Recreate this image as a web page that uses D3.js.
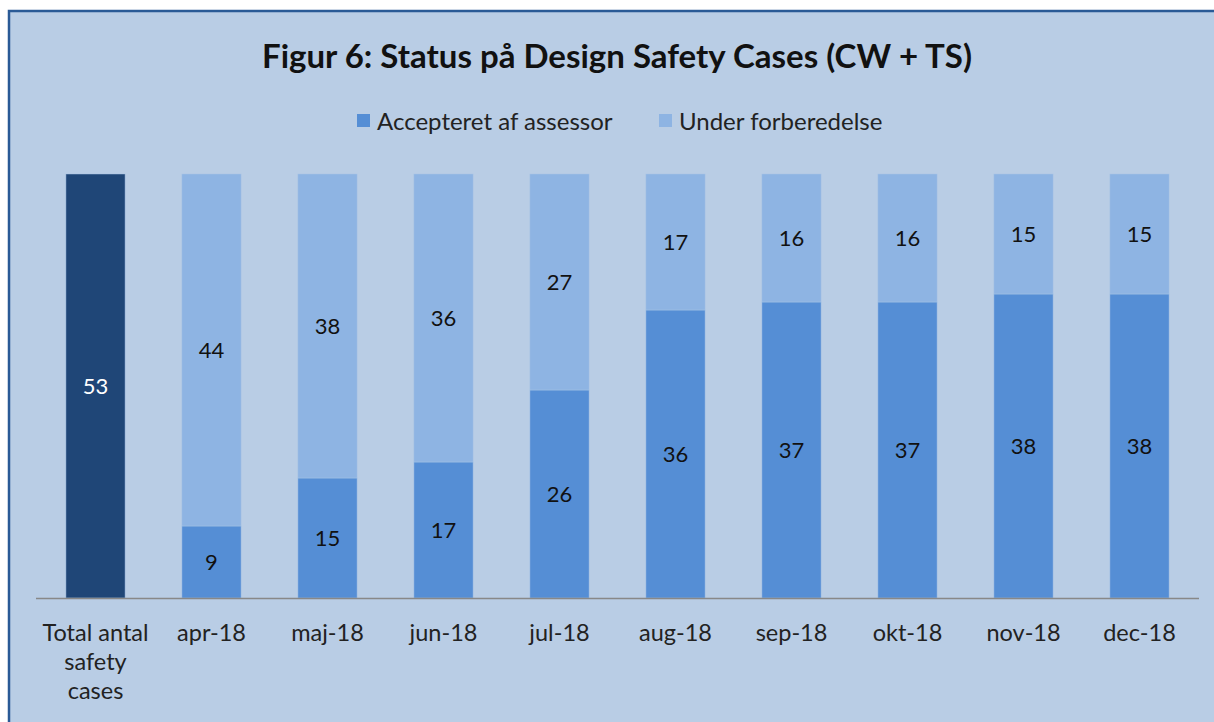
<!DOCTYPE html>
<html>
<head>
<meta charset="utf-8">
<script src="https://cdn.jsdelivr.net/npm/d3@7"></script>
<style>
  body{margin:0;background:#ffffff;}
  text{font-family:Lato, "Open Sans", sans-serif;}
</style>
</head>
<body>
<div id="chart"></div>
<script>
// data
var categories = ["Total antal safety cases","apr-18","maj-18","jun-18","jul-18","aug-18","sep-18","okt-18","nov-18","dec-18"];
var totalValues = [53,null,null,null,null,null,null,null,null,null];
var accepted = [null,9,15,17,26,36,37,37,38,38];
var underPrep = [null,44,38,36,27,17,16,16,15,15];
var seriesNames = ["Accepteret af assessor","Under forberedelse"];

var W = 1214, H = 722;
var cols = {total:"#1f4677", acc:"#558ed5", prep:"#8eb4e3", bg:"#b9cde5"};

var svg = d3.select("#chart").append("svg").attr("width",W).attr("height",H);

// chart area with border
svg.append("rect").attr("x",9).attr("y",11).attr("width",W+20).attr("height",H+20)
   .attr("fill",cols.bg).attr("stroke","#2a5a96").attr("stroke-width",2.5);

svg.append("text").attr("x",617).attr("y",68).attr("text-anchor","middle")
   .style("font-size","33px").style("font-weight","bold").style("fill","#111")
   .text("Figur 6: Status på Design Safety Cases (CW + TS)");

// legend
var legend = svg.append("g");
var leg = [{label:seriesNames[0], c:cols.acc, x:357},{label:seriesNames[1], c:cols.prep, x:659}];
legend.selectAll("rect").data(leg).enter().append("rect")
   .attr("x",function(d){return d.x}).attr("y",114).attr("width",13).attr("height",13)
   .attr("fill",function(d){return d.c});
legend.selectAll("text").data(leg).enter().append("text")
   .attr("x",function(d){return d.x+20}).attr("y",130)
   .style("font-size","24px").style("fill","#222")
   .text(function(d){return d.label});

var x = d3.scaleBand().domain(categories).range([37.5,1197.5]).paddingInner(0.49).paddingOuter(0.245);
var y = d3.scaleLinear().domain([0,53]).range([598,174]);

var g = svg.append("g");

function bars(vals, base, color, cls){
  var d = categories.map(function(c,i){return {c:c, v:vals[i], b:base ? (base[i]||0) : 0}}).filter(function(d){return d.v!=null});
  g.selectAll("rect."+cls).data(d).enter().append("rect").attr("class",cls)
   .attr("x",function(d){return x(d.c)}).attr("width",x.bandwidth())
   .attr("y",function(d){return y(d.b+d.v)}).attr("height",function(d){return y(d.b)-y(d.b+d.v)})
   .attr("fill",color).attr("stroke","#a9c4e6").attr("stroke-width",0.8).attr("stroke-opacity",0.6);
  g.selectAll("text."+cls).data(d).enter().append("text").attr("class",cls)
   .attr("x",function(d){return x(d.c)+x.bandwidth()/2})
   .attr("y",function(d){return (y(d.b)+y(d.b+d.v))/2+8})
   .attr("text-anchor","middle").style("font-size","22px")
   .style("fill", cls=="tot" ? "#ffffff" : "#111")
   .text(function(d){return d.v});
}
bars(totalValues, null, cols.total, "tot");
bars(accepted, null, cols.acc, "acc");
bars(underPrep, accepted, cols.prep, "prep");

// baseline
svg.append("line").attr("x1",36).attr("x2",1199).attr("y1",598.5).attr("y2",598.5)
   .attr("stroke","#888").attr("stroke-width",1.5);

// category labels, wrapped
var wrapLines = {"Total antal safety cases":["Total antal","safety","cases"]};
var lab = svg.append("g").selectAll("text").data(categories).enter().append("text")
   .attr("text-anchor","middle").style("font-size","23.5px").style("fill","#222")
   .attr("transform",function(d){return "translate("+(x(d)+x.bandwidth()/2)+",641)"});
lab.selectAll("tspan").data(function(d){return wrapLines[d] || [d]}).enter().append("tspan")
   .attr("x",0).attr("dy",function(d,i){return i==0 ? 0 : 29}).text(function(d){return d});
</script>
</body>
</html>
